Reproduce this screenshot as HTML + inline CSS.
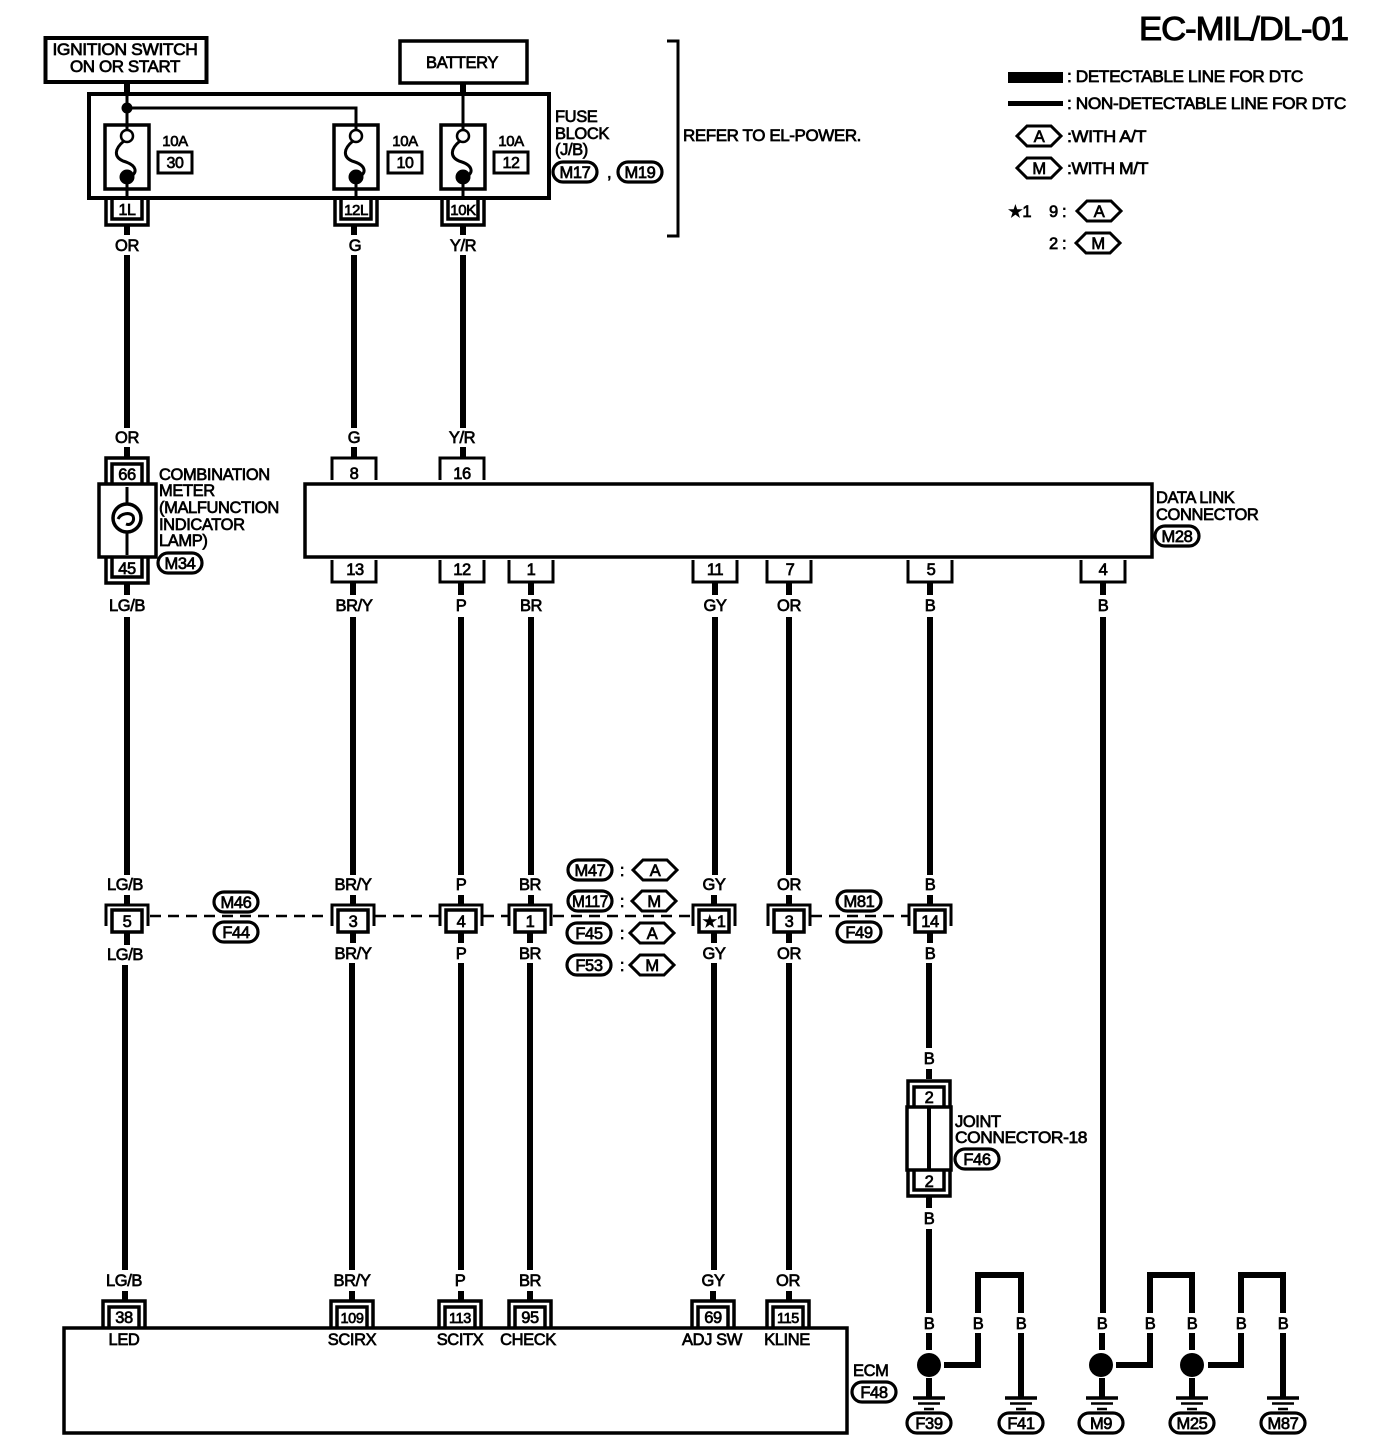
<!DOCTYPE html>
<html><head><meta charset="utf-8"><title>EC-MIL/DL-01</title>
<style>
html,body{margin:0;padding:0;background:#fff;width:1392px;height:1456px;overflow:hidden}
svg{display:block}
text{font-family:"Liberation Sans",sans-serif;font-size:16.5px;fill:#000;stroke:#000;stroke-width:.7;letter-spacing:-.4px}
.c text,text.c{text-anchor:middle}
.w{fill:none;stroke:#000;stroke-width:6}
.m{fill:none;stroke:#000;stroke-width:3}
.t{fill:none;stroke:#000;stroke-width:2}
.o{fill:#fff;stroke:#000;stroke-width:3}
</style></head><body>
<svg width="1392" height="1456" viewBox="0 0 1392 1456" xmlns="http://www.w3.org/2000/svg">
<defs>
<path id="cu" d="M-21,0V26H21V0M-15,0V20H15V0" fill="none" stroke="#000" stroke-width="3.5"/>
<path id="cn" d="M-21,0V-26H21V0M-15,0V-20H15V0" fill="none" stroke="#000" stroke-width="3.5"/>
<g id="cm"><path d="M-21,9V-12H21V9" fill="none" stroke="#000" stroke-width="3"/><rect x="-15" y="-7" width="30" height="22" fill="#fff" stroke="#000" stroke-width="3.5"/></g>
<path id="su" d="M-22,0V22H22V0" fill="none" stroke="#000" stroke-width="3"/>
<path id="sn" d="M-22,0V-22H22V0" fill="none" stroke="#000" stroke-width="3"/>
<rect id="ov" x="-22" y="-10" width="44" height="20" rx="10" fill="#fff" stroke="#000" stroke-width="3.2"/>
<path id="hx" d="M-22,0L-12,-10H12L22,0L12,10H-12Z" fill="#fff" stroke="#000" stroke-width="3"/>
<g id="gd"><path d="M-16,0H16" stroke="#000" stroke-width="3.5"/><path d="M-11,5.5H11" stroke="#000" stroke-width="2.5"/><path d="M-5,11H5" stroke="#000" stroke-width="2.5"/></g>
<g id="fu"><rect x="-22" y="0" width="44" height="64" fill="#fff" stroke="#000" stroke-width="3.5"/><path d="M0,-17V5M0,52V73" class="m"/><circle cx="0" cy="11" r="6" fill="#fff" stroke="#000" stroke-width="2.5"/><path d="M-3,16C-13,24 -13,32 -4,36C10,40 12,48 1,53" class="m"/><circle cx="0" cy="52" r="7.5" fill="#000"/></g>
</defs>

<text x="1348" y="40" text-anchor="end" style="font-size:33px;stroke-width:1;letter-spacing:-1px" textLength="209" lengthAdjust="spacingAndGlyphs">EC-MIL/DL-01</text>

<!-- top boxes -->
<rect x="45.5" y="38" width="161" height="44" class="m" style="stroke-width:4"/>
<rect x="400" y="41" width="127" height="42" class="m" style="stroke-width:3.5"/>
<g class="c"><text x="125" y="55" textLength="145" lengthAdjust="spacingAndGlyphs">IGNITION SWITCH</text>
<text x="125" y="72" textLength="110" lengthAdjust="spacingAndGlyphs">ON OR START</text>
<text x="462" y="68" textLength="72" lengthAdjust="spacingAndGlyphs">BATTERY</text></g>

<rect x="89" y="94" width="460" height="104" class="m" style="stroke-width:4"/>
<path d="M127,82V94M463,83V94" class="w"/>
<path d="M127,94V125M463,94V125" class="m"/>
<circle cx="127" cy="108" r="5.5" fill="#000"/>
<path d="M127,108H356V125" class="m"/>
<use href="#fu" x="127" y="125"/><use href="#fu" x="356" y="125"/><use href="#fu" x="463" y="125"/>
<g class="c">
<text x="175" y="146" style="font-size:15px">10A</text><text x="405" y="146" style="font-size:15px">10A</text><text x="511" y="146" style="font-size:15px">10A</text>
<text x="175" y="168" style="font-size:16px">30</text><text x="405" y="168" style="font-size:16px">10</text><text x="511" y="168" style="font-size:16px">12</text></g>
<rect x="158" y="152" width="34" height="21" class="m"/><rect x="388" y="152" width="34" height="21" class="m"/><rect x="494" y="152" width="34" height="21" class="m"/>

<text x="555" y="122">FUSE</text><text x="555" y="139">BLOCK</text><text x="555" y="155">(J/B)</text>
<use href="#ov" x="575" y="172"/><use href="#ov" x="640" y="172"/>
<text x="607" y="178">,</text>
<path d="M667,41H678V236H667" class="m"/>
<text x="683" y="141" textLength="178" lengthAdjust="spacingAndGlyphs">REFER TO EL-POWER.</text>

<!-- top connectors -->
<use href="#cu" x="127" y="199"/><use href="#cu" x="356" y="199"/><use href="#cu" x="463" y="199"/>

<!-- wires top -->
<path d="M127,225V235M127,255V428M127,447V458M354,225V235M354,255V428M354,447V458M463,225V235M463,255V428M463,447V458" class="w"/>
<g class="c">
<text x="127" y="251">OR</text><text x="355" y="251">G</text><text x="463" y="251">Y/R</text>
<text x="127" y="443">OR</text><text x="354" y="443">G</text><text x="462" y="443">Y/R</text>
<text x="127" y="215" style="font-size:16px">1L</text><text x="356" y="215" style="font-size:15px">12L</text><text x="463" y="215" style="font-size:15px">10K</text>
<text x="127" y="480">66</text><text x="354" y="479">8</text><text x="462" y="479">16</text>
</g>

<use href="#cn" x="127" y="484"/>
<rect x="99" y="484" width="57" height="73" fill="#fff" stroke="#000" stroke-width="3.5"/>
<path d="M127,487V504M127,532V555" class="m"/>
<circle cx="127" cy="518" r="14" class="m" style="stroke-width:3.5"/>
<path d="M118,519C121,513 130,512 133,516C135,521 131,526 126,524" class="m"/>
<use href="#cu" x="127" y="557"/>
<text x="127" y="574" style="text-anchor:middle">45</text>
<text x="159" y="480">COMBINATION</text><text x="159" y="496">METER</text><text x="159" y="513">(MALFUNCTION</text><text x="159" y="530">INDICATOR</text><text x="159" y="546">LAMP)</text>
<use href="#ov" x="180" y="563"/>

<!-- data link -->
<rect x="305" y="484" width="847" height="73" fill="#fff" stroke="#000" stroke-width="3.5"/>
<use href="#sn" x="354" y="480"/><use href="#sn" x="462" y="480"/>
<use href="#su" x="354" y="560"/><use href="#su" x="462" y="560"/><use href="#su" x="531" y="560"/><use href="#su" x="715" y="560"/><use href="#su" x="789" y="560"/><use href="#su" x="930" y="560"/><use href="#su" x="1103" y="560"/>
<g class="c"><text x="355" y="575">13</text><text x="462" y="575">12</text><text x="531" y="575">1</text><text x="715" y="575">11</text><text x="790" y="575">7</text><text x="931" y="575">5</text><text x="1103" y="575">4</text></g>
<text x="1156" y="503">DATA LINK</text><text x="1156" y="520">CONNECTOR</text>
<use href="#ov" x="1177" y="536"/>

<!-- long wires -->
<path d="M127,582V595M127,617V875M127,895V905M127,931V945M125,965V1270M125,1291V1300
M353,582V595M353,617V875M353,895V905M353,931V943M352,963V1270M352,1291V1300
M461,582V595M461,617V875M461,895V905M461,931V943M461,963V1270M461,1291V1300
M531,582V595M531,617V875M531,895V905M530,931V943M530,963V1270M530,1291V1300
M715,582V595M715,617V875M714,895V905M714,931V943M714,963V1270M713,1291V1300
M789,582V595M789,617V875M789,895V905M789,931V943M789,963V1270M789,1291V1300
M930,582V595M930,617V875M930,895V905M930,931V943M929,963V1048M929,1069V1079M929,1196V1208M929,1229V1313M929,1333V1350M929,1378V1398
M1103,582V595M1103,617V1313M1102,1333V1350M1102,1378V1398
M1192,1333V1350M1192,1378V1398" class="w"/>

<g class="c">
<text x="127" y="611">LG/B</text><text x="354" y="611">BR/Y</text><text x="461" y="611">P</text><text x="531" y="611">BR</text><text x="715" y="611">GY</text><text x="789" y="611">OR</text><text x="930" y="611">B</text><text x="1103" y="611">B</text>
<text x="125" y="890">LG/B</text><text x="353" y="890">BR/Y</text><text x="461" y="890">P</text><text x="530" y="890">BR</text><text x="714" y="890">GY</text><text x="789" y="890">OR</text><text x="930" y="890">B</text>
<text x="125" y="960">LG/B</text><text x="353" y="959">BR/Y</text><text x="461" y="959">P</text><text x="530" y="959">BR</text><text x="714" y="959">GY</text><text x="789" y="959">OR</text><text x="930" y="959">B</text>
<text x="124" y="1286">LG/B</text><text x="352" y="1286">BR/Y</text><text x="460" y="1286">P</text><text x="530" y="1286">BR</text><text x="713" y="1286">GY</text><text x="788" y="1286">OR</text>
<text x="929" y="1064">B</text><text x="929" y="1224">B</text>
</g>

<!-- dashed -->
<path d="M150,916H330M375,916H440M483,916H509M553,916H693M811,916H908" class="m" stroke-dasharray="11 7" style="stroke-width:2.5"/>
<use href="#cm" x="127" y="917"/><use href="#cm" x="353" y="917"/><use href="#cm" x="461" y="917"/><use href="#cm" x="530" y="917"/><use href="#cm" x="714" y="917"/><use href="#cm" x="789" y="917"/><use href="#cm" x="930" y="917"/>
<g class="c"><text x="127" y="927">5</text><text x="353" y="927">3</text><text x="461" y="927">4</text><text x="530" y="927">1</text><text x="714" y="927">★1</text><text x="789" y="927">3</text><text x="930" y="927">14</text></g>

<use href="#ov" x="236" y="902"/><use href="#ov" x="236" y="932"/>
<use href="#ov" x="859" y="901"/><use href="#ov" x="859" y="932"/>
<use href="#ov" x="590" y="870"/><use href="#ov" x="590" y="901"/><use href="#ov" x="589" y="933"/><use href="#ov" x="589" y="965"/>
<use href="#hx" x="655" y="870"/><use href="#hx" x="654" y="901"/><use href="#hx" x="652" y="933"/><use href="#hx" x="652" y="965"/>
<g class="c">
<text x="622" y="876">:</text><text x="622" y="907">:</text><text x="622" y="939">:</text><text x="622" y="971">:</text>
<text x="236" y="908">M46</text><text x="236" y="938">F44</text><text x="859" y="907">M81</text><text x="859" y="938">F49</text>
<text x="590" y="876">M47</text><text x="590" y="907" textLength="36" lengthAdjust="spacingAndGlyphs">M117</text><text x="589" y="939">F45</text><text x="589" y="971">F53</text>
<text x="655" y="876">A</text><text x="654" y="907">M</text><text x="652" y="939">A</text><text x="652" y="971">M</text>
<text x="575" y="178">M17</text><text x="640" y="178">M19</text><text x="180" y="569">M34</text><text x="1177" y="542">M28</text>
</g>

<!-- joint -->
<use href="#cn" x="929" y="1107"/>
<rect x="907" y="1107" width="44" height="63" fill="#fff" stroke="#000" stroke-width="3.5"/>
<path d="M929,1107V1170" class="w" style="stroke-width:4"/>
<use href="#cu" x="929" y="1170"/>
<text x="929" y="1103" style="text-anchor:middle">2</text><text x="929" y="1187" style="text-anchor:middle">2</text>
<text x="955" y="1127">JOINT</text><text x="955" y="1143" textLength="132" lengthAdjust="spacingAndGlyphs">CONNECTOR-18</text>
<use href="#ov" x="977" y="1159"/><text x="977" y="1165" style="text-anchor:middle">F46</text>

<!-- ECM -->
<rect x="64" y="1328" width="783" height="105" fill="#fff" stroke="#000" stroke-width="3.5"/>
<use href="#cn" x="124" y="1327"/><use href="#cn" x="352" y="1327"/><use href="#cn" x="460" y="1327"/><use href="#cn" x="530" y="1327"/><use href="#cn" x="713" y="1327"/><use href="#cn" x="788" y="1327"/>
<g class="c">
<text x="124" y="1323">38</text><text x="352" y="1323" style="font-size:14.5px">109</text><text x="460" y="1323" style="font-size:14.5px">113</text><text x="530" y="1323">95</text><text x="713" y="1323">69</text><text x="788" y="1323" style="font-size:14.5px">115</text>
<text x="124" y="1345">LED</text><text x="352" y="1345">SCIRX</text><text x="460" y="1345">SCITX</text><text x="528" y="1345">CHECK</text><text x="712" y="1345">ADJ SW</text><text x="787" y="1345">KLINE</text>
</g>
<text x="853" y="1376">ECM</text><use href="#ov" x="874" y="1392"/><text x="874" y="1398" style="text-anchor:middle">F48</text>

<!-- grounds -->
<circle cx="929" cy="1365" r="12" fill="#000"/><circle cx="1101" cy="1365" r="12" fill="#000"/><circle cx="1192" cy="1365" r="12" fill="#000"/>
<path d="M944,1365H978V1333M978,1313V1275H1021V1313M1021,1333V1398M1116,1365H1150V1333M1150,1313V1275H1192V1313M1208,1365H1241V1333M1241,1313V1275H1283V1313M1283,1333V1398" class="w"/>
<g class="c"><text x="929" y="1329">B</text><text x="978" y="1329">B</text><text x="1021" y="1329">B</text><text x="1102" y="1329">B</text><text x="1150" y="1329">B</text><text x="1192" y="1329">B</text><text x="1241" y="1329">B</text><text x="1283" y="1329">B</text></g>
<use href="#gd" x="929" y="1398"/><use href="#gd" x="1021" y="1398"/><use href="#gd" x="1102" y="1398"/><use href="#gd" x="1192" y="1398"/><use href="#gd" x="1283" y="1398"/>
<use href="#ov" x="929" y="1423"/><use href="#ov" x="1021" y="1423"/><use href="#ov" x="1101" y="1423"/><use href="#ov" x="1192" y="1423"/><use href="#ov" x="1283" y="1423"/>
<g class="c"><text x="929" y="1429">F39</text><text x="1021" y="1429">F41</text><text x="1101" y="1429">M9</text><text x="1192" y="1429">M25</text><text x="1283" y="1429">M87</text></g>

<!-- legend -->
<rect x="1008" y="72" width="55" height="11" fill="#000"/>
<rect x="1008" y="101" width="55" height="5" fill="#000"/>
<text x="1067" y="82" textLength="236" lengthAdjust="spacingAndGlyphs">: DETECTABLE LINE FOR DTC</text>
<text x="1067" y="109" textLength="279" lengthAdjust="spacingAndGlyphs">: NON-DETECTABLE LINE FOR DTC</text>
<use href="#hx" x="1039" y="136"/><use href="#hx" x="1039" y="168"/>
<text x="1039" y="142" style="text-anchor:middle">A</text><text x="1039" y="174" style="text-anchor:middle">M</text>
<text x="1067" y="142" textLength="79" lengthAdjust="spacingAndGlyphs">:WITH A/T</text>
<text x="1067" y="174" textLength="81" lengthAdjust="spacingAndGlyphs">:WITH M/T</text>
<text x="1008" y="217">★1</text><text x="1049" y="217">9 :</text><text x="1049" y="249">2 :</text>
<use href="#hx" x="1099" y="211"/><use href="#hx" x="1098" y="243"/>
<text x="1099" y="217" style="text-anchor:middle">A</text><text x="1098" y="249" style="text-anchor:middle">M</text>
</svg>
</body></html>
